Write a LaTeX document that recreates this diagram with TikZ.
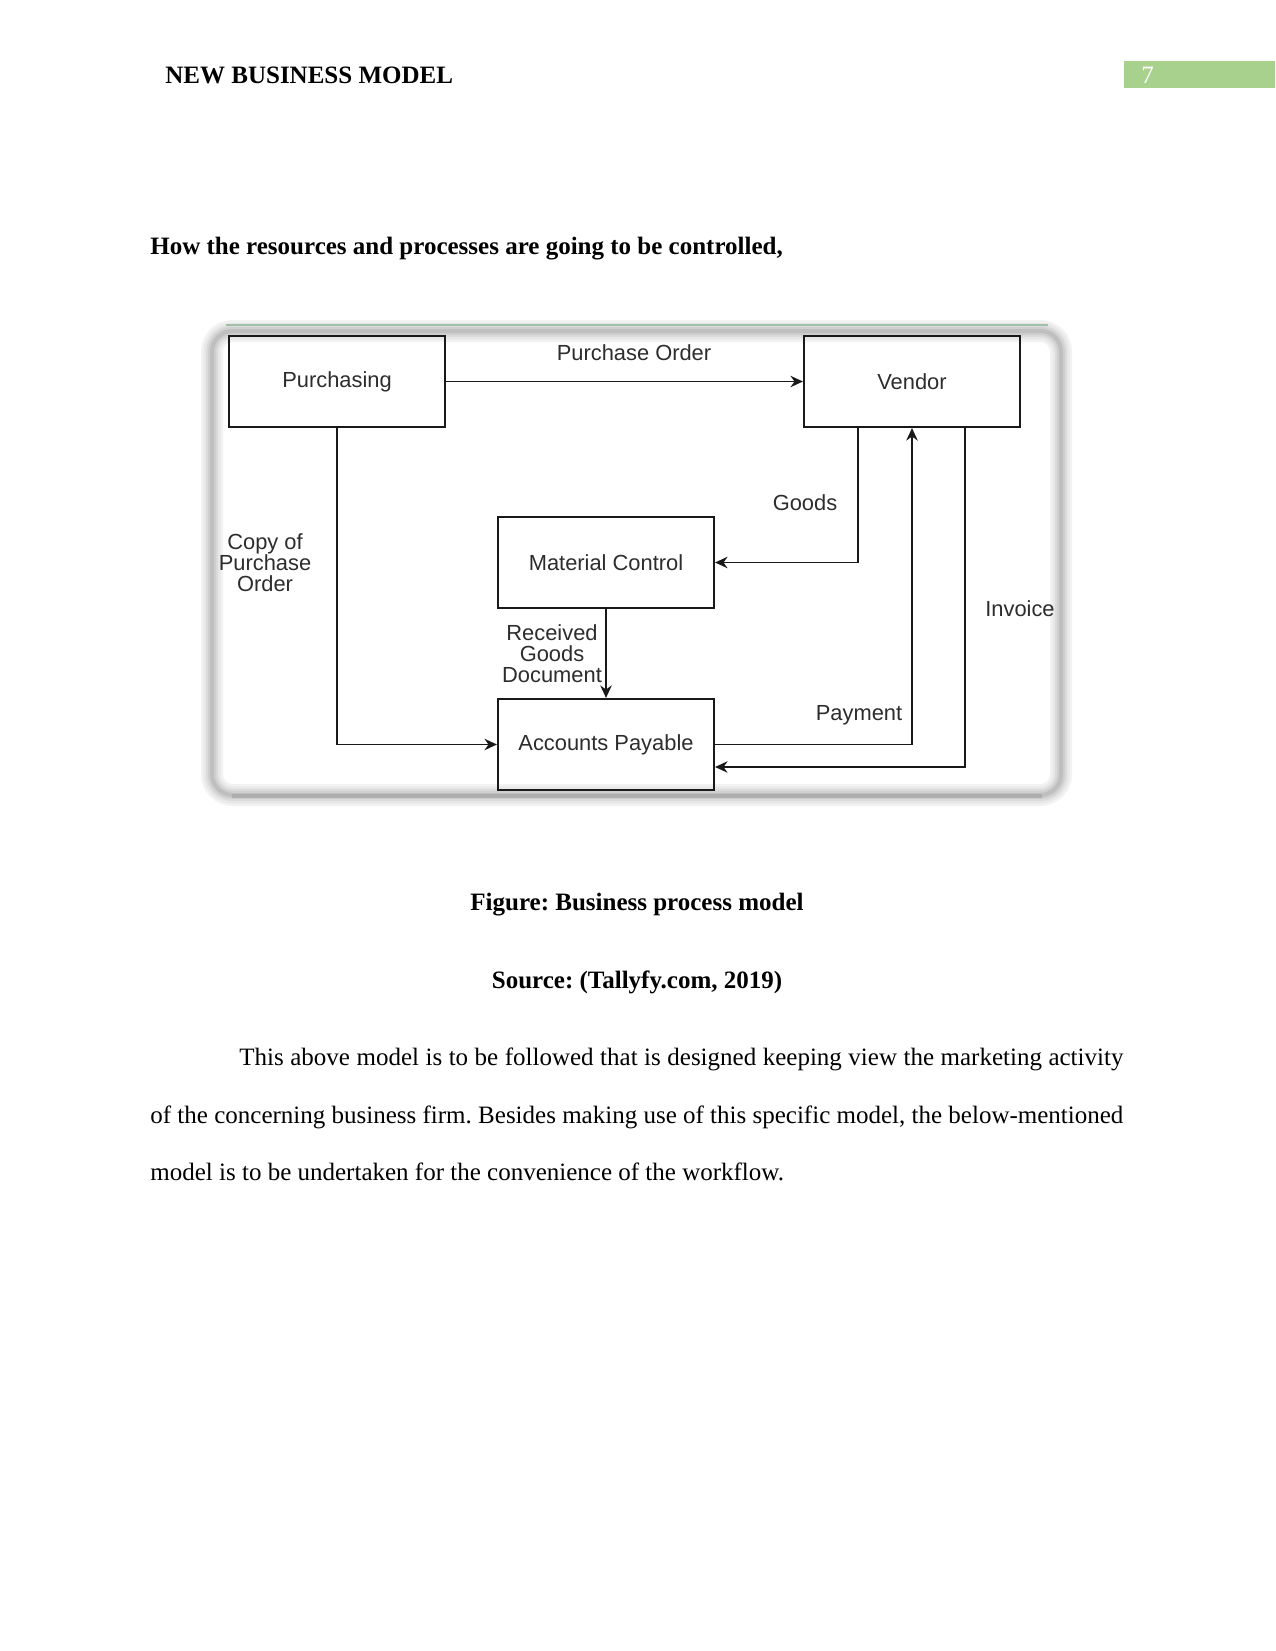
\documentclass[tikz,border=0pt]{standalone}
\usepackage{fontspec}
\setmainfont{Liberation Serif}
\newfontfamily\arialf{Liberation Sans}
\usetikzlibrary{arrows.meta}
\definecolor{hdrgreen}{RGB}{169,209,142}
\definecolor{topgreen}{RGB}{160,192,170}
\definecolor{dtext}{RGB}{45,45,45}
\tikzset{
  x=0.48pt, y=-0.48pt,
  procbox/.style={draw=black!90, line width=1pt, minimum width=103.7pt, minimum height=43.7pt, inner sep=0pt, font=\arialf\fontsize{10.5}{12}\selectfont, text=dtext},
  flow/.style={draw=black!90, line width=0.8pt, -{Stealth[length=6pt,width=5.5pt]}},
  flabel/.style={font=\arialf\fontsize{10.5}{10}\selectfont, text=dtext, align=center, inner sep=0pt},
  doc/.style={font=\fontsize{12}{14}\selectfont, inner sep=0pt},
  docb/.style={font=\bfseries\fontsize{12}{14}\selectfont, inner sep=0pt}
}
\begin{document}
\frenchspacing
\begin{tikzpicture}
\useasboundingbox (0,0) rectangle (1275,1651);
\fill[white] (0,0) rectangle (1275,1651);
% header
\node[docb, anchor=base west] (hdr) at (165,84) {NEW BUSINESS MODEL};
\fill[hdrgreen] (1124,61) rectangle (1275,88);
\node[doc, anchor=base west, text=white] (pg) at (1141,84) {7};
% heading
\node[docb, anchor=base west] (head) at (150,255) {How the resources and processes are going to be controlled,};
% frame
\foreach \w/\c in {22/5, 17/9, 12/14, 8/19, 4/25} {
  \draw[line width=\w*0.48pt, color=black!\c, rounded corners=10pt] (212,331) rectangle (1061,795);
}
\draw[line width=4*0.48pt, color=black!32] (232,796) -- (1042,796);
\draw[line width=2.5*0.48pt, color=topgreen] (226,325) -- (1048,325);
% boxes
\node[procbox] (pur) at (337,381.5) {Purchasing};
\node[procbox] (ven) at (912,381.5) {Vendor};
\node[procbox] (mc) at (606,562.5) {Material Control};
\node[procbox] (ap) at (606,744.5) {Accounts Payable};
% connectors
\draw[flow] (pur.east) -- (ven.west);
\draw[flow] (pur.south) |- (ap.west);
\draw[flow] ([xshift=-25.92pt]ven.south) |- (mc.east);
\draw[flow] (mc.south) -- (ap.north);
\draw[flow] (ap.east) -| (ven.south);
\draw[flow] ([xshift=25.44pt]ven.south) |- ([yshift=-10.8pt]ap.east);
% labels
\node[flabel] (lpo) at (634,353) {Purchase Order};
\node[flabel] (lgoods) at (805,503) {Goods};
\node[flabel] (lcopy) at (265,563) {Copy of\\Purchase\\Order};
\node[flabel] (lrec) at (552,654) {Received\\Goods\\Document};
\node[flabel] (lpay) at (859,715) {Payment};
\node[flabel] (linv) at (1020,609) {Invoice};
% caption
\node[docb, anchor=base] (cap) at (637,910) {Figure: Business process model};
\node[docb, anchor=base] (src) at (637,988) {Source: (Tallyfy.com, 2019)};
% body
\node[doc, anchor=base west] (b1) at (239,1065) {\makebox[424.3pt][s]{This above model is to be followed that is designed keeping view the marketing activity}};
\node[doc, anchor=base west] (b2) at (150,1123) {\makebox[467pt][s]{of the concerning business firm. Besides making use of this specific model, the below-mentioned}};
\node[doc, anchor=base west] (b3) at (150,1180) {model is to be undertaken for the convenience of the workflow.};
\end{tikzpicture}
\end{document}
